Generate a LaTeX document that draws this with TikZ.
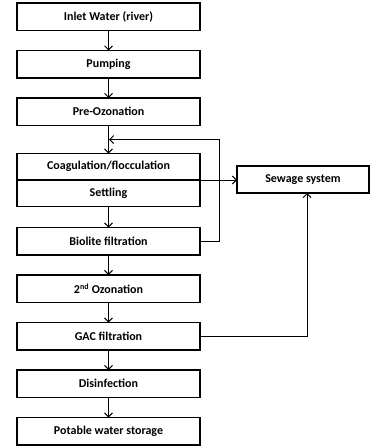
\documentclass[tikz,border=0pt]{standalone}
\usepackage{fontspec}
\setmainfont{Carlito}
\usetikzlibrary{calc}
\usetikzlibrary{positioning}
\usetikzlibrary{arrows.meta}

\begin{document}
\begin{tikzpicture}[x=1pt, y=-1pt, node distance=20pt,
  stage/.style={draw, line width=1.4pt, outer sep=0pt, minimum width=183pt, minimum height=27.5pt, inner sep=0pt,
    font=\bfseries\fontsize{12}{14}\selectfont},
  half/.style={stage, minimum height=26.5pt},
  flow/.style={line width=0.9pt, -{Straight Barb[length=4pt, width=8pt]}}]
\useasboundingbox (0,0) rectangle (371,447);
% main treatment line
\node[stage] (inlet) at (108.5,16.75) {Inlet Water (river)};
\node[stage, below=of inlet] (pump) {Pumping};
\node[stage, below=of pump] (preoz) {Pre-Ozonation};
\node[half, below=28pt of preoz] (coag) {Coagulation/flocculation};
\node[half, below=0pt of coag] (settle) {Settling};
\node[stage, below=21pt of settle] (bio) {Biolite filtration};
\node[stage, below=of bio] (ozone) {2\textsuperscript{nd} Ozonation};
\node[stage, below=of ozone] (gac) {GAC filtration};
\node[stage, below=of gac] (disinf) {Disinfection};
\node[stage, below=of disinf] (store) {Potable water storage};
% side branch
\node[stage, minimum width=132pt, minimum height=27pt] (sewage) at (303,179.5) {Sewage system};
\coordinate (join) at ($(preoz.south)!0.5!(coag.north)$);
\coordinate (back) at (219,0);

\draw[flow] (inlet) -- (pump);
\draw[flow] (pump) -- (preoz);
\draw[flow] (preoz) -- (coag);
\draw[flow] (settle) -- (bio);
\draw[flow] (bio) -- (ozone);
\draw[flow] (ozone) -- (gac);
\draw[flow] (gac) -- (disinf);
\draw[flow] (disinf) -- (store);
% recycle and waste
\draw[flow] (bio.east) -| (back |- join) -- ([xshift=0.5pt]join);
\draw[flow] (coag.south east) -- (sewage.west |- coag.south east);
\draw[flow] (gac.east) -| ([xshift=4pt]sewage.south);
\end{tikzpicture}
\end{document}
